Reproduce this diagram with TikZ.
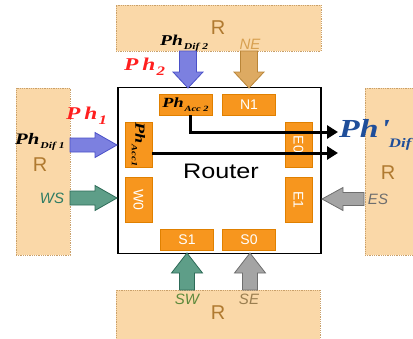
\documentclass[tikz,border=0pt]{standalone}
\usepackage{fontspec}
\setmainfont{Liberation Sans}
\newfontfamily\phf[FakeStretch=1.3]{Liberation Serif}
\newfontfamily\wsans[FakeStretch=1.2]{Liberation Sans}
\usetikzlibrary{arrows.meta}
\definecolor{rfill}{HTML}{FAD8A8}
\definecolor{rdraw}{HTML}{C9A06A}
\definecolor{rtext}{HTML}{B07A30}
\definecolor{portc}{HTML}{F7961E}
\definecolor{portd}{HTML}{E08000}
\definecolor{bluef}{HTML}{7C80E0}
\definecolor{blued}{HTML}{4A50C8}
\definecolor{tanf}{HTML}{DDAA62}
\definecolor{tand}{HTML}{B98538}
\definecolor{greenf}{HTML}{5E9E88}
\definecolor{greend}{HTML}{2E6B58}
\definecolor{grayf}{HTML}{A4A4A4}
\definecolor{grayd}{HTML}{6E6E6E}
\definecolor{phred}{HTML}{FF1F1F}
\definecolor{phblue}{HTML}{1F4E9A}
\definecolor{wsc}{HTML}{2E7C64}
\definecolor{swc}{HTML}{5E8A3C}
\definecolor{sec}{HTML}{9A7E50}
\definecolor{esc}{HTML}{6E6E6E}
\definecolor{nec}{HTML}{D8A050}
% tip x, tip y, angle, length, head length, shaft half width, head half width, style
\newcommand\blkarrow[8]{\draw[#8,shift={(#1,#2)},rotate=#3] (0,0) -- (-#5,#7) -- (-#5,#6) -- (-#4,#6) -- (-#4,-#6) -- (-#5,-#6) -- (-#5,-#7) -- cycle;}
\tikzset{
  rbox/.style={fill=rfill, draw=rdraw, densely dotted, line width=0.8pt, inner sep=0pt},
  rlbl/.style={text=rtext, font=\fontsize{20}{20}\selectfont, inner sep=0pt},
  port/.style={fill=portc, draw=portd, line width=0.4pt, text=white, font=\fontsize{14}{14}\selectfont, inner sep=0pt},
  hport/.style={port, minimum width=53pt, minimum height=21pt},
  vport/.style={port, rotate=-90, minimum width=45pt, minimum height=27pt},
  lbl/.style={inner sep=0pt, font=\fontsize{15}{15}\selectfont\itshape},
  ph/.style={inner sep=0pt, anchor=west},
  bl/.style={line width=3pt, -{Triangle[length=11pt,width=13pt]}},
  ablue/.style={fill=bluef, draw=blued, line width=0.8pt},
  atan/.style={fill=tanf, draw=tand, line width=0.8pt},
  agreen/.style={fill=greenf, draw=greend, line width=0.8pt},
  agray/.style={fill=grayf, draw=grayd, line width=0.8pt}
}
\begin{document}
\begin{tikzpicture}[x=1pt,y=-1pt]
\useasboundingbox (0,0) rectangle (413,338);
\clip (0,0) rectangle (413,338);
% neighbour routers
\node[rbox, minimum width=205pt, minimum height=46pt] (Rtop) at (218.5,28) {};
\node[rbox, minimum width=54pt, minimum height=167pt] (Rleft) at (43,171.5) {};
\node[rbox, minimum width=60pt, minimum height=167pt] (Rright) at (395,171.5) {};
\node[rbox, minimum width=204pt, minimum height=60pt] (Rbot) at (218,320) {};
\node[rlbl] (Rt) at (218,28) {R};
\node[rlbl] (Rl) at (40,165) {R};
\node[rlbl] (Rr) at (388,173) {R};
\node[rlbl] (Rb) at (218,313) {R};
% router
\node[draw, line width=1.2pt, fill=white, minimum width=203pt, minimum height=166pt, inner sep=0pt] (router) at (219.5,170.5) {};
\node[inner sep=0pt, font=\wsans\fontsize{21}{21}\selectfont] (rtr) at (221,171) {Router};
% ports
\node[hport] (acc2) at (185.5,104.5) {\color{black}{\phf\bfseries\itshape\fontsize{14}{14}\selectfont Ph\raisebox{-3.5pt}{\fontsize{8}{8}\selectfont\kern1pt Acc 2}}};
\node[hport] (N1) at (249,104.5) {N1};
\node[hport] (S1) at (187,239.5) {S1};
\node[hport] (S0) at (249,239.5) {S0};
\node[vport] (acc1) at (138.5,144.5) {\color{black}{\phf\bfseries\itshape\fontsize{14}{14}\selectfont Ph\raisebox{-3.5pt}{\fontsize{8}{8}\selectfont\kern1pt Acc1}}};
\node[vport] (W0) at (138.5,200) {W0};
\node[vport] (E0) at (298.5,144.5) {E0};
\node[vport] (E1) at (298.5,200) {E1};
% labels
\node[lbl, text=nec] (NE) at (250,44) {NE};
\node[lbl, text=wsc] (WS) at (52,198) {WS};
\node[lbl, text=esc] (ES) at (378,199) {ES};
\node[lbl, text=swc] (SW) at (187,299) {SW};
\node[lbl, text=sec] (SE) at (249,299) {SE};
\node[ph] (phdif2) at (160,43) {{\phf\bfseries\itshape\fontsize{15}{15}\selectfont Ph\raisebox{-4pt}{\fontsize{9}{9}\selectfont\kern1pt Dif 2}}};
\node[ph] (phdif1) at (15,142) {{\phf\bfseries\itshape\fontsize{16}{16}\selectfont Ph\raisebox{-4pt}{\fontsize{9}{9}\selectfont\kern1pt Dif 1}}};
\node[ph, text=phred] (ph2) at (124,67) {{\phf\bfseries\itshape\fontsize{18}{18}\selectfont P\kern4pt h\raisebox{-5pt}{\fontsize{13}{13}\selectfont\kern1pt 2}}};
\node[ph, text=phred] (ph1) at (66,116) {{\phf\bfseries\itshape\fontsize{18}{18}\selectfont P\kern4pt h\raisebox{-5pt}{\fontsize{13}{13}\selectfont\kern1pt 1}}};
\node[ph, text=phblue] (phout) at (339,135) {{\phf\bfseries\itshape\fontsize{26}{26}\selectfont Ph\kern2pt\textquotesingle\raisebox{-10pt}{\fontsize{13}{13}\selectfont\kern1pt Dif}}};
% block arrows
\blkarrow{188}{88}{-90}{37}{16}{8.5}{15}{ablue}
\blkarrow{249}{88}{-90}{37}{16}{8.5}{15}{atan}
\blkarrow{117}{145}{0}{47}{22}{7}{12.5}{ablue}
\blkarrow{117}{198}{0}{47}{22}{7}{12.5}{agreen}
\blkarrow{322}{199}{180}{42}{21}{6.5}{11.5}{agray}
\blkarrow{187}{253}{90}{37}{20}{7.5}{15.5}{agreen}
\blkarrow{250}{253}{90}{37}{20}{7.5}{15.5}{agray}
% paths through the router
\coordinate (t1) at (338,132);
\coordinate (t2) at (338,153);
\coordinate (s2) at (152,153);
\draw[bl] ([xshift=4.5pt]acc2.south) |- (t1);
\draw[bl] (s2) -- (t2);
\end{tikzpicture}
\end{document}
